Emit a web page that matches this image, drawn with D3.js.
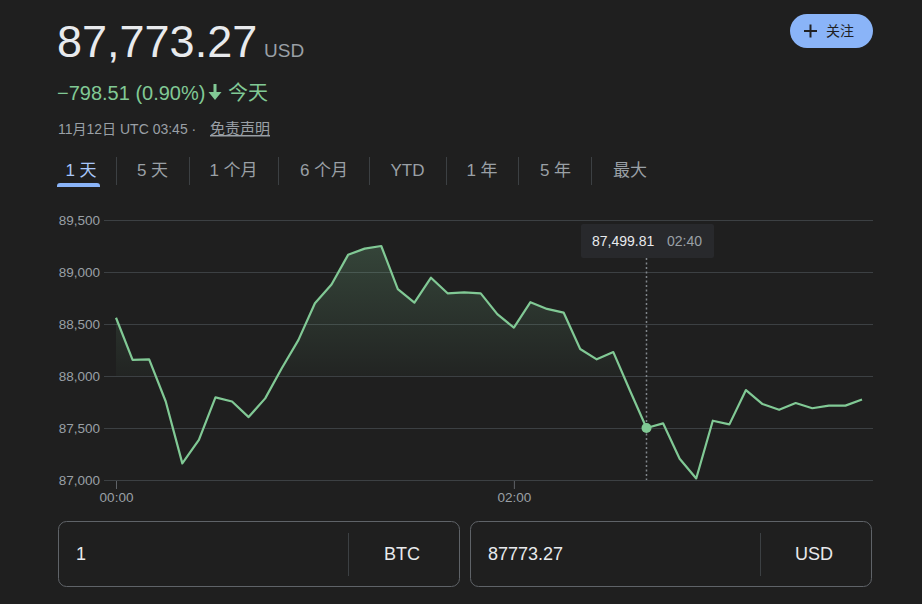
<!DOCTYPE html>
<html>
<head>
<meta charset="utf-8">
<script src="https://cdn.jsdelivr.net/npm/d3@7"></script>
<style>
  html, body { margin: 0; padding: 0; background: #1f1f1f; }
  svg { display: block; }
  text { font-family: "Liberation Sans", Arial, "Noto Sans CJK SC", sans-serif; }
</style>
</head>
<body>
<svg id="chart" width="922" height="604"></svg>
<script>
// ---------- data ----------
const times = ["00:00","00:05","00:10","00:15","00:20","00:25","00:30","00:35","00:40","00:45",
  "00:50","00:55","01:00","01:05","01:10","01:15","01:20","01:25","01:30","01:35",
  "01:40","01:45","01:50","01:55","02:00","02:05","02:10","02:15","02:20","02:25",
  "02:30","02:35","02:40","02:45","02:50","02:55","03:00","03:05","03:10","03:15",
  "03:20","03:25","03:30","03:35","03:40","03:45"];
const prices = [88560, 88155, 88160, 87755, 87160, 87385, 87795, 87755, 87605, 87785,
  88075, 88345, 88700, 88880, 89165, 89225, 89250, 88835, 88705, 88945,
  88795, 88805, 88795, 88595, 88465, 88710, 88645, 88610, 88260, 88160,
  88230, 87860, 87499.81, 87545, 87205, 87015, 87570, 87535, 87865, 87730,
  87675, 87740, 87690, 87715, 87715, 87773.27];
const yTicks = [87000, 87500, 88000, 88500, 89000, 89500];
const xTicks = ["00:00", "02:00"];
const tabs = ["1 天", "5 天", "1 个月", "6 个月", "YTD", "1 年", "5 年", "最大"];
const hoverTime = "02:40";

const toMin = t => { const [h, m] = t.split(":").map(Number); return h * 60 + m; };
const data = times.map((t, i) => ({ t: toMin(t), v: prices[i] }));

const svg = d3.select("#chart");
svg.append("rect").attr("width", 922).attr("height", 604).attr("fill", "#1f1f1f");

// ---------- header ----------
svg.append("text").attr("x", 57).attr("y", 57).attr("font-size", 45).attr("fill", "#e8eaed").text("87,773.27");
svg.append("text").attr("x", 264).attr("y", 57).attr("font-size", 19).attr("fill", "#9aa0a6").text("USD");
svg.append("text").attr("x", 57).attr("y", 100).attr("font-size", 20).attr("fill", "#81c995").text("−798.51 (0.90%)");
svg.append("path").attr("fill", "#81c995")
  .attr("d", "M213.5,84 L216.5,84 L216.5,92 L221.5,92 L215,100 L208.5,92 L213.5,92 Z");
svg.append("text").attr("x", 228).attr("y", 100).attr("font-size", 20).attr("fill", "#81c995").text("今天");
svg.append("text").attr("x", 58).attr("y", 134).attr("font-size", 14).attr("fill", "#9aa0a6").text("11月12日 UTC 03:45 ·");
svg.append("text").attr("x", 210).attr("y", 134).attr("font-size", 15).attr("fill", "#9aa0a6")
  .attr("text-decoration", "underline").text("免责声明");

// follow button
svg.append("rect").attr("x", 790).attr("y", 14).attr("width", 83).attr("height", 34).attr("rx", 17).attr("fill", "#8ab4f8");
svg.append("path").attr("stroke", "#202124").attr("stroke-width", 2).attr("d", "M804,31 H817 M810.5,24.5 V37.5");
svg.append("text").attr("x", 826).attr("y", 36).attr("font-size", 14).attr("fill", "#202124").text("关注");

// ---------- tabs ----------
const tabCenters = [81, 152.5, 233.5, 324, 407.5, 482, 555.5, 630];
const seps = [116, 189, 278, 369, 446, 518, 591];
tabs.forEach((t, i) => {
  svg.append("text").attr("x", tabCenters[i]).attr("y", 176).attr("text-anchor", "middle")
    .attr("font-size", 17).attr("fill", i === 0 ? "#a8c7fa" : "#9aa0a6").text(t);
});
seps.forEach(x => {
  svg.append("line").attr("x1", x + 0.5).attr("x2", x + 0.5).attr("y1", 157).attr("y2", 185)
    .attr("stroke", "#3c4043").attr("stroke-width", 1);
});
svg.append("path").attr("fill", "#8ab4f8")
  .attr("d", "M57,187 L57,186 Q57,183 60,183 L97,183 Q100,183 100,186 L100,187 Z");

// ---------- chart ----------
const x = d3.scaleLinear().domain([0, 225]).range([116, 862]);
const y = d3.scaleLinear().domain([87000, 89500]).range([480, 220]);

const grid = svg.append("g");
grid.selectAll("line").data(yTicks).join("line")
  .attr("x1", 104).attr("x2", 873)
  .attr("y1", d => Math.round(y(d)) + 0.5).attr("y2", d => Math.round(y(d)) + 0.5)
  .attr("stroke", "#3c4043").attr("stroke-width", 1.2);

const yAxis = svg.append("g").attr("transform", "translate(100,0)")
  .call(d3.axisLeft(y).tickValues(yTicks).tickSize(0).tickPadding(0).tickFormat(d3.format(",")));
yAxis.select(".domain").remove();
yAxis.selectAll("text").attr("font-size", 13.5).attr("fill", "#9aa0a6")
  .attr("font-family", "'Liberation Sans', Arial, sans-serif");

const xAxis = svg.append("g").attr("transform", "translate(0,481)")
  .call(d3.axisBottom(x).tickValues(xTicks.map(toMin)).tickSize(8).tickPadding(3)
    .tickFormat(d => times.find(t => toMin(t) === d) || ""));
xAxis.select(".domain").remove();
xAxis.selectAll("line").attr("stroke", "#5f6368");
xAxis.selectAll("text").attr("font-size", 13.5).attr("fill", "#9aa0a6")
  .attr("font-family", "'Liberation Sans', Arial, sans-serif");

// gradient area
const defs = svg.append("defs");
const grad = defs.append("linearGradient").attr("id", "g1").attr("gradientUnits", "userSpaceOnUse")
  .attr("x1", 0).attr("x2", 0).attr("y1", y(89250)).attr("y2", y(88000));
grad.append("stop").attr("offset", 0).attr("stop-color", "#81c995").attr("stop-opacity", 0.22);
grad.append("stop").attr("offset", 1).attr("stop-color", "#81c995").attr("stop-opacity", 0.03);
defs.append("clipPath").attr("id", "c1").append("rect")
  .attr("x", 0).attr("width", 922).attr("y", 0).attr("height", y(88000));

const area = d3.area().x(d => x(d.t)).y0(y(88000)).y1(d => y(d.v));
svg.append("path").datum(data).attr("d", area).attr("fill", "url(#g1)").attr("clip-path", "url(#c1)");

const line = d3.line().x(d => x(d.t)).y(d => y(d.v));
svg.append("path").datum(data).attr("d", line).attr("fill", "none")
  .attr("stroke", "#81c995").attr("stroke-width", 2.2).attr("stroke-linejoin", "round");

// hover
const hp = data[times.indexOf(hoverTime)];
const hx = x(hp.t);
svg.append("line").attr("x1", hx).attr("x2", hx).attr("y1", 258).attr("y2", 480)
  .attr("stroke", "#80868b").attr("stroke-width", 1.5).attr("stroke-dasharray", "2,2.5");
svg.append("circle").attr("cx", hx).attr("cy", y(hp.v)).attr("r", 5).attr("fill", "#81c995");
svg.append("rect").attr("x", 581).attr("y", 224).attr("width", 133).attr("height", 34).attr("rx", 2).attr("fill", "#28292c");
svg.append("text").attr("x", 592).attr("y", 246).attr("font-size", 14).attr("fill", "#e8eaed")
  .text(d3.format(",.2f")(hp.v));
svg.append("text").attr("x", 667).attr("y", 246).attr("font-size", 14).attr("fill", "#9aa0a6").text(hoverTime);

// ---------- converter ----------
const boxes = [{ x: 58, val: "1", cur: "BTC" }, { x: 470, val: "87773.27", cur: "USD" }];
boxes.forEach(b => {
  svg.append("rect").attr("x", b.x + 0.5).attr("y", 521.5).attr("width", 401).attr("height", 65).attr("rx", 8)
    .attr("fill", "none").attr("stroke", "#5f6368");
  svg.append("line").attr("x1", b.x + 290.5).attr("x2", b.x + 290.5).attr("y1", 533).attr("y2", 576)
    .attr("stroke", "#3c4043");
  svg.append("text").attr("x", b.x + 18).attr("y", 560).attr("font-size", 18).attr("fill", "#e8eaed").text(b.val);
  svg.append("text").attr("x", b.x + 344).attr("y", 560).attr("text-anchor", "middle").attr("font-size", 18)
    .attr("fill", "#e8eaed").text(b.cur);
});
</script>
</body>
</html>
